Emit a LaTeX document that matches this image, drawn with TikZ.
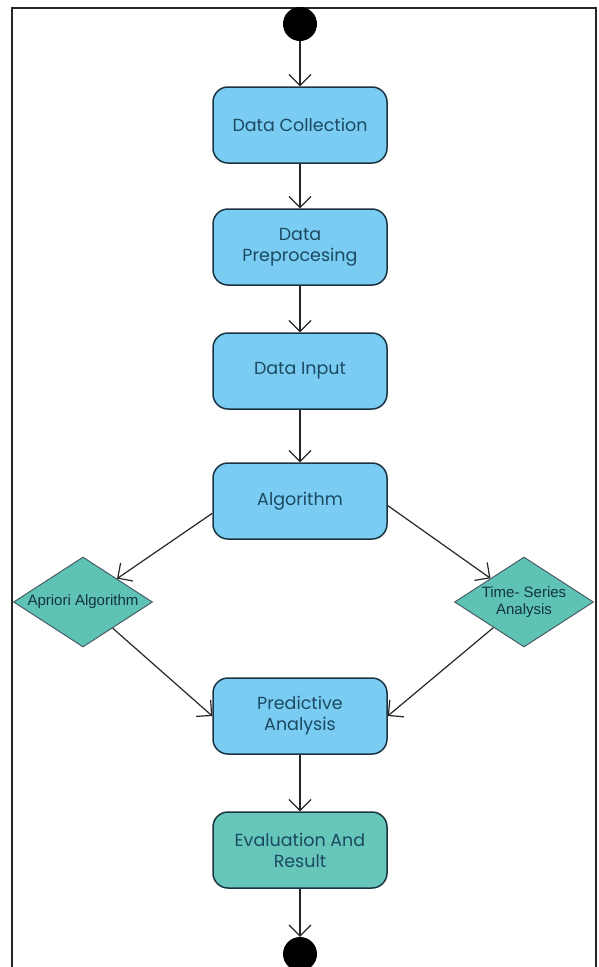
\documentclass[tikz,border=0pt]{standalone}
\usepackage{fontspec}
\setmainfont{Poppins}
\newfontfamily\arialfont{Liberation Sans}
\usetikzlibrary{shapes.geometric,arrows.meta}
\definecolor{boxblue}{HTML}{7ACCF2}
\definecolor{boxteal}{HTML}{66C6BA}
\definecolor{dteal}{HTML}{5EC2B4}
\definecolor{txtc}{HTML}{1B4A62}
\definecolor{edgec}{HTML}{1C3442}
\tikzset{
  x=1pt, y=-1pt,
  actbox/.style={draw=edgec, line width=1.5pt, rounded corners=15pt, fill=boxblue,
    minimum width=174pt, minimum height=76pt, align=center, text=txtc,
    font=\fontsize{17.5}{21}\selectfont, inner sep=0pt},
  decbox/.style={draw=edgec!80, line width=1pt, shape=diamond, fill=dteal,
    minimum width=139pt, minimum height=90pt, inner sep=0pt, aspect=1.54,
    align=center, text=txtc!70!black, font=\arialfont\fontsize{15}{17}\selectfont},
  dot/.style={circle, fill=black, minimum size=34pt, inner sep=0pt},
  flow/.style={draw=black!85, line width=1.2pt, -{Straight Barb[length=11pt,width=22pt,line width=1.2pt]}},
}
\begin{document}
\begin{tikzpicture}
\useasboundingbox (0,0) rectangle (598,967);
\fill[white] (0,0) rectangle (598,967);
\draw[line width=2pt, black!85] (12,967) -- (12,8) -- (596,8) -- (596,967);
\node[dot] (start) at (300,24) {};
\node[actbox] (dc) at (300,125) {Data Collection};
\node[actbox] (dp) at (300,247) {Data\\Preprocesing};
\node[actbox] (di) at (300,371) {Data Input};
\node[actbox] (alg) at (300,501) {Algorithm};
\node[decbox] (apr) at (83,602) {Apriori Algorithm};
\node[decbox] (ts) at (524,602) {Time- Series\\Analysis};
\node[actbox] (pred) at (300,716) {Predictive\\Analysis};
\node[actbox, fill=boxteal] (ev) at (300,850) {Evaluation And\\Result};
\node[dot] (end) at (300,954) {};
\draw[flow] (start) -- (dc);
\draw[flow] (dc) -- (dp);
\draw[flow] (dp) -- (di);
\draw[flow] (di) -- (alg);
\draw[flow] (alg.188) -- (apr);
\draw[flow] (alg.-3) -- (ts);
\draw[flow] (apr) -- (pred.west);
\draw[flow] (ts) -- (pred.east);
\draw[flow] (pred) -- (ev);
\draw[flow] (ev) -- (end);
\end{tikzpicture}
\end{document}
